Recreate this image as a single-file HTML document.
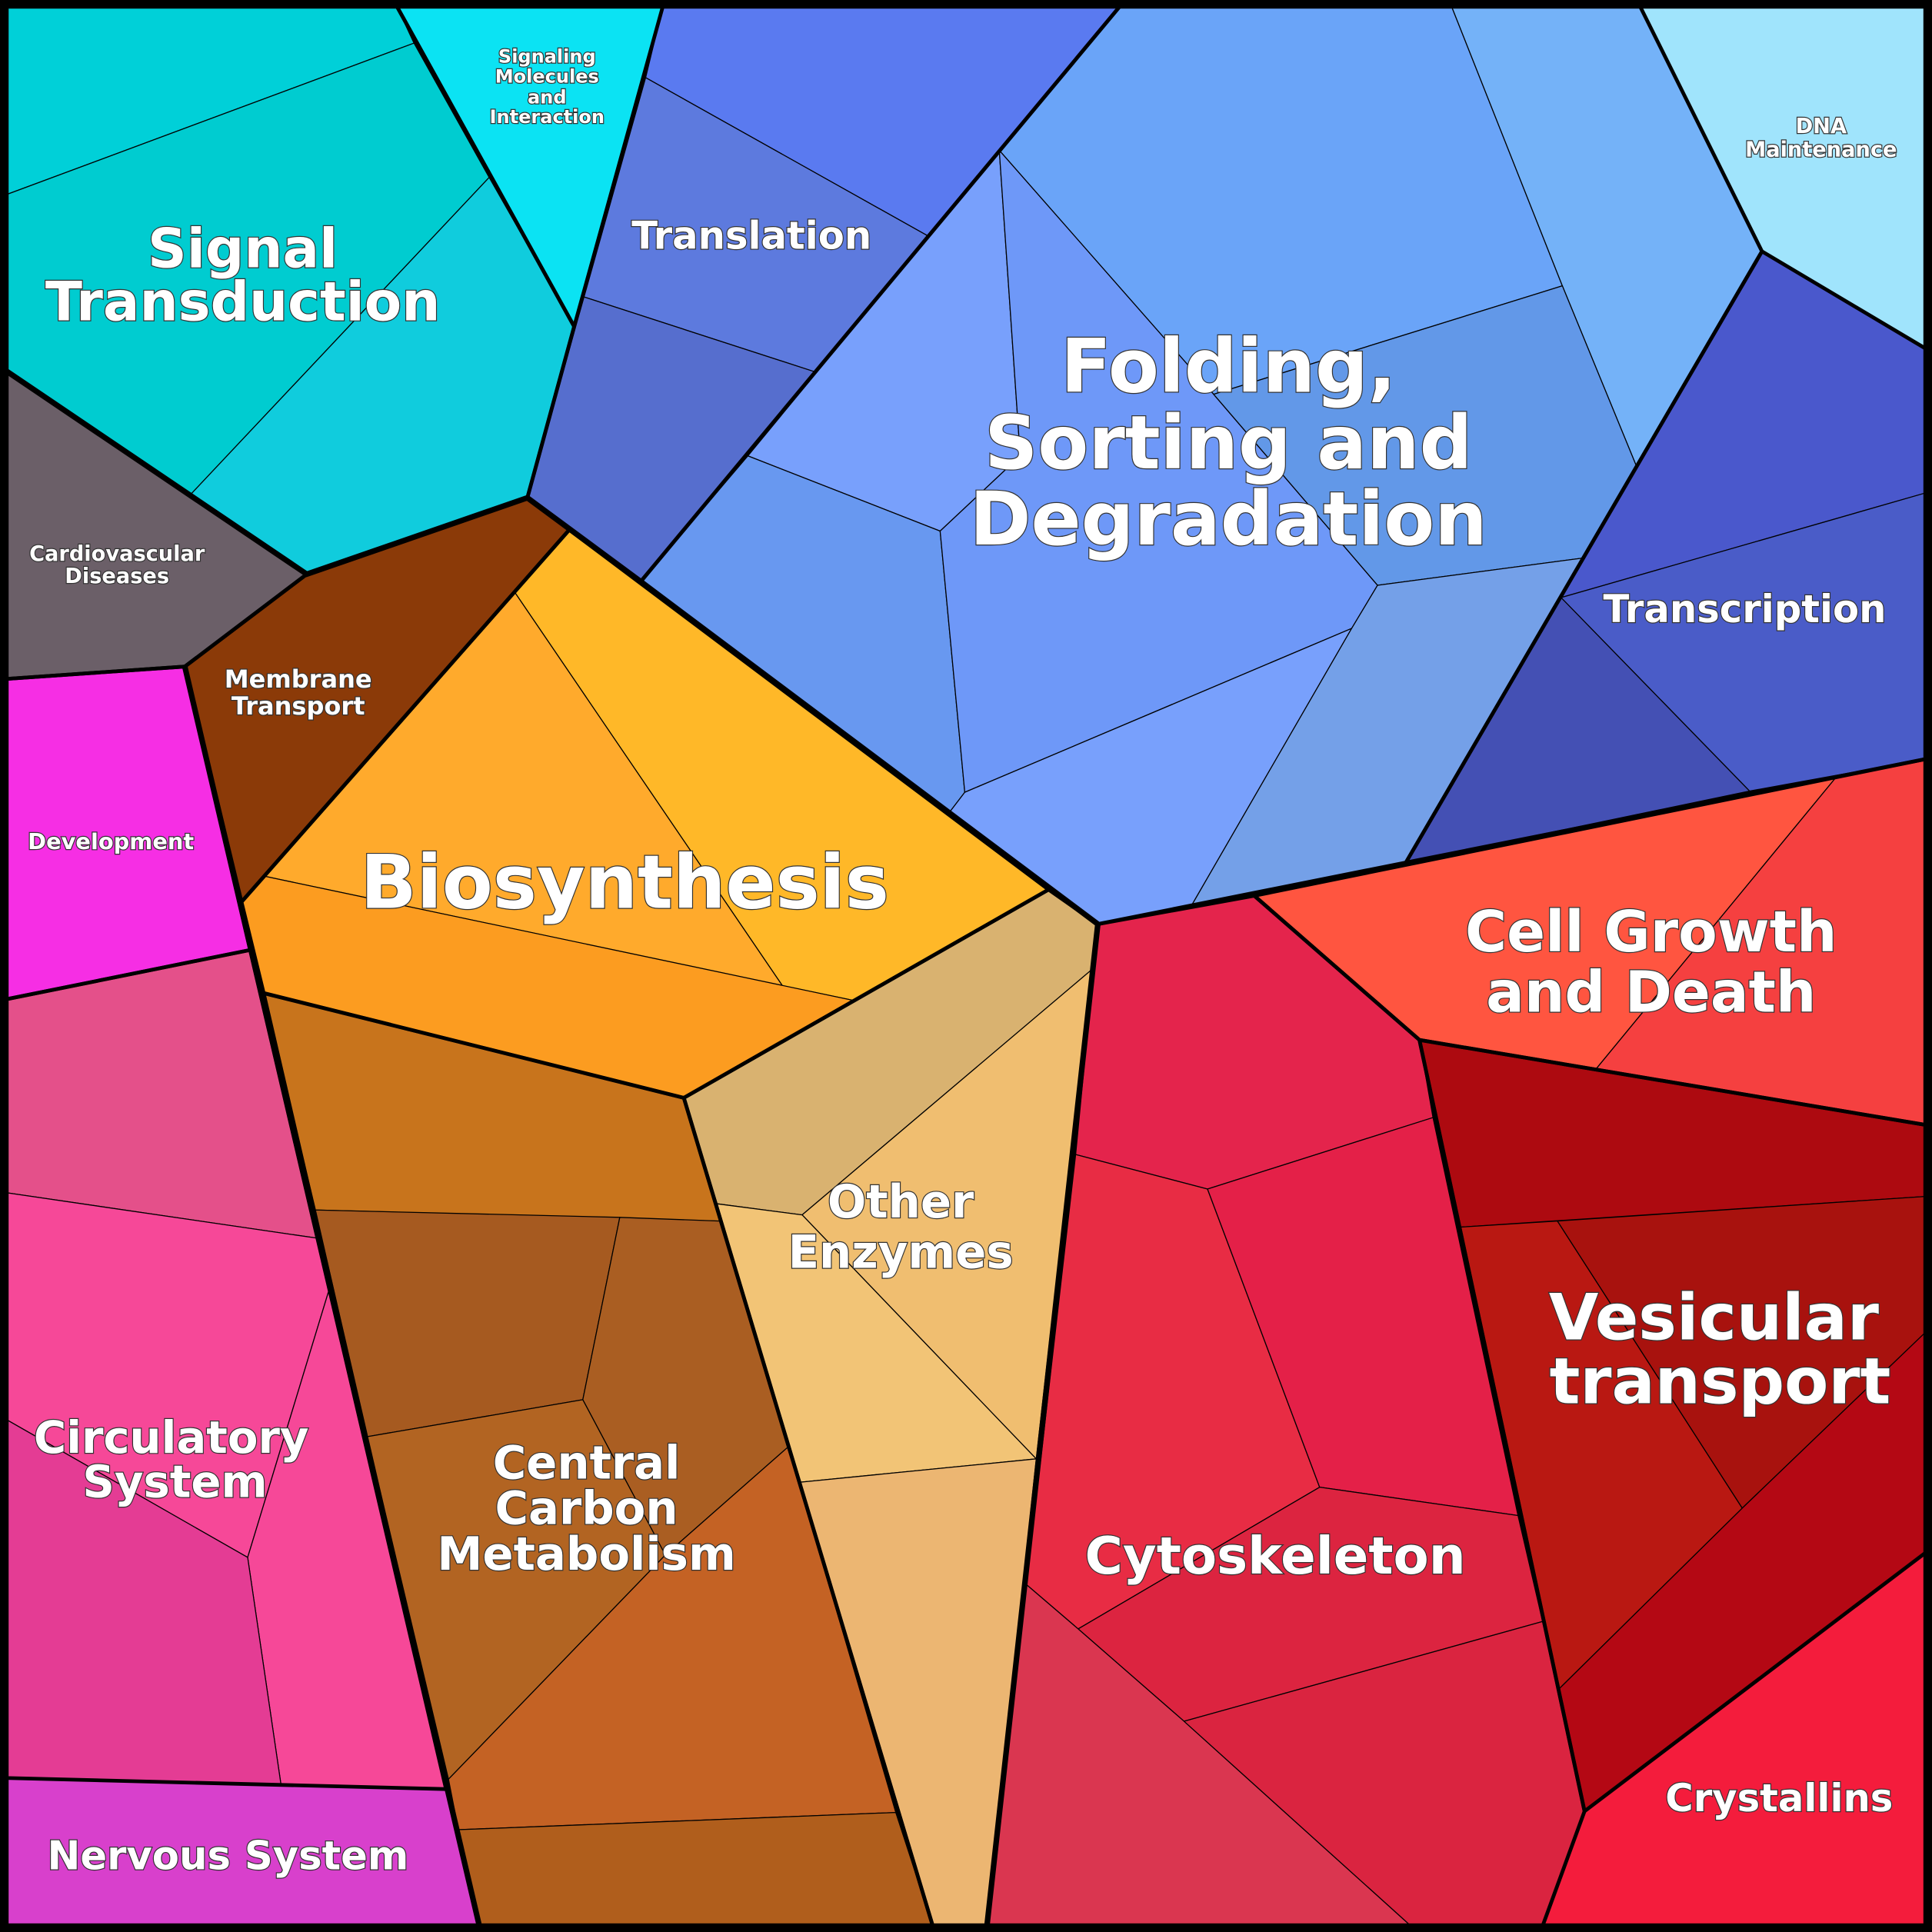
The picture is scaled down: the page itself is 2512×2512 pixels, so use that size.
<!DOCTYPE html>
<html><head><meta charset="utf-8"><style>
html,body{margin:0;padding:0;background:#000}
svg{display:block}
text{font-family:"DejaVu Sans","Liberation Sans",sans-serif;font-weight:bold;fill:#fff;text-anchor:middle;paint-order:stroke;stroke:#333;stroke-width:1.5px}
.s{stroke:#000;stroke-width:0.8;stroke-linejoin:round}
.m{fill:none;stroke:#000;stroke-width:3;stroke-linejoin:round}
</style></head><body>
<svg width="2512" height="2512" viewBox="0 0 1568 1568" xmlns="http://www.w3.org/2000/svg">
<rect x="0" y="0" width="1568" height="1568" fill="#000"/>
<!-- Signal Transduction -->
<polygon class="s" fill="#00D0D8" points="5,5 322,5 336,35 5,158"/>
<polygon class="s" fill="#00CCD0" points="5,158 336,35 397,144 155,401 5,301"/>
<polygon class="s" fill="#10CCDD" points="397,144 466,265 428,404 249,466 155,401"/>
<polygon class="s" fill="#0BE3F3" points="322,5 538,5 466,265"/>
<!-- Translation -->
<polygon class="s" fill="#5A7AF0" points="538,5 909,5 754,192 524,63"/>
<polygon class="s" fill="#5D7ADE" points="524,63 754,192 662,302 474,241"/>
<polygon class="s" fill="#566ECE" points="474,241 662,302 520,472 428,404"/>
<!-- Folding -->
<polygon class="s" fill="#6AA4F8" points="909,5 1178,5 1268,232 985,320 811,122"/>
<polygon class="s" fill="#74B2F8" points="1178,5 1331,5 1430,204 1328,378 1268,232"/>
<polygon class="s" fill="#78A0FC" points="811,122 828,370 763,431 607,370"/>
<polygon class="s" fill="#6898F0" points="520,472 607,370 763,431 783,643 770,660"/>
<polygon class="s" fill="#6E98F8" points="811,122 985,320 1118,475 1097,510 783,643 763,431 828,370"/>
<polygon class="s" fill="#6298E8" points="985,320 1268,232 1328,378 1284,453 1118,475"/>
<polygon class="s" fill="#78A0FC" points="770,660 783,643 1097,510 967,735 891,750"/>
<polygon class="s" fill="#74A0E8" points="1097,510 1118,475 1284,453 1141,700 967,735"/>
<polygon class="s" fill="#A0E4FC" points="1331,5 1563,5 1563,283 1430,204"/>
<!-- Transcription -->
<polygon class="s" fill="#4A58CC" points="1430,204 1563,283 1563,400 1267,485"/>
<polygon class="s" fill="#4450B4" points="1267,485 1420,642 1141,700"/>
<polygon class="s" fill="#4A5CC8" points="1267,485 1563,400 1563,616 1420,642"/>
<!-- Cell growth -->
<polygon class="s" fill="#FF5540" points="1018,727 1490,631 1295,868 1152,844"/>
<polygon class="s" fill="#F54040" points="1490,631 1563,616 1563,913 1295,868"/>
<!-- Vesicular -->
<polygon class="s" fill="#AD0A10" points="1152,844 1563,913 1563,971 1184,996"/>
<polygon class="s" fill="#B91812" points="1184,996 1264,991 1414,1224 1265,1371"/>
<polygon class="s" fill="#A8120E" points="1264,991 1563,971 1563,1081 1414,1224"/>
<polygon class="s" fill="#B40814" points="1414,1224 1563,1081 1563,1260 1286,1470 1265,1371"/>
<polygon class="s" fill="#F41C3C" points="1286,1470 1563,1260 1563,1563 1252,1563"/>
<!-- Cytoskeleton -->
<polygon class="s" fill="#E4244C" points="891,750 1018,727 1152,844 1163,907 980,965 873,937"/>
<polygon class="s" fill="#E82C44" points="873,937 980,965 1071,1207 875,1322 833,1286"/>
<polygon class="s" fill="#E42048" points="980,965 1163,907 1232,1230 1071,1207"/>
<polygon class="s" fill="#DC2440" points="875,1322 1071,1207 1232,1230 1252,1316 961,1397"/>
<polygon class="s" fill="#DA3650" points="833,1286 875,1322 961,1397 1145,1563 801,1563"/>
<polygon class="s" fill="#DA2440" points="961,1397 1252,1316 1286,1470 1252,1563 1145,1563"/>
<!-- Other enzymes -->
<polygon class="s" fill="#D9B270" points="851,722 891,750 886,787 651,986 582,977 555,891"/>
<polygon class="s" fill="#F0BE70" points="886,787 841,1184 651,986"/>
<polygon class="s" fill="#F2C476" points="582,977 651,986 841,1184 649,1203"/>
<polygon class="s" fill="#ECB672" points="649,1203 841,1184 801,1563 757,1563"/>
<!-- Biosynthesis -->
<polygon class="s" fill="#FFB828" points="462,430 851,722 693,812 635,800 418,481"/>
<polygon class="s" fill="#FFAA2C" points="418,481 635,800 214,711"/>
<polygon class="s" fill="#FC9C20" points="196,732 214,711 693,812 555,891 214,806"/>
<polygon class="s" fill="#8B3A08" points="249,466 428,404 462,430 196,732 150,541"/>
<polygon class="s" fill="#6B5F68" points="5,301 249,466 150,541 5,551"/>
<polygon class="s" fill="#F62EE4" points="5,551 150,541 203,771 5,811"/>
<!-- Circulatory -->
<polygon class="s" fill="#E4508A" points="5,811 203,771 258,1005 5,968"/>
<polygon class="s" fill="#F64898" points="5,968 258,1005 267,1047 201,1264 5,1152"/>
<polygon class="s" fill="#F64898" points="267,1047 362,1452 228,1448 201,1264"/>
<polygon class="s" fill="#E43C94" points="5,1152 201,1264 228,1448 5,1443"/>
<polygon class="s" fill="#D840CC" points="5,1443 362,1452 389,1563 5,1563"/>
<!-- Central carbon -->
<polygon class="s" fill="#C8741C" points="214,806 555,891 584,991 256,982"/>
<polygon class="s" fill="#A65A20" points="256,982 503,988 473,1136 298,1166"/>
<polygon class="s" fill="#AA5E22" points="503,988 584,991 640,1174 540,1262 473,1136"/>
<polygon class="s" fill="#B26422" points="298,1166 473,1136 540,1262 364,1444"/>
<polygon class="s" fill="#C46224" points="640,1174 727,1471 372,1485 364,1444 540,1262"/>
<polygon class="s" fill="#B05E1C" points="372,1485 727,1471 757,1563 389,1563"/>
<!-- major borders -->
<g class="m">
<polygon points="5,5 322,5 466,265 428,404 249,466 5,301"/>
<polyline points="322,5 466,265"/>
<polygon points="538,5 909,5 520,472 428,404 466,265"/>
<polygon points="909,5 1331,5 1430,204 1141,700 891,750 520,472"/>
<polygon points="1430,204 1563,283 1563,616 1141,700"/>
<polygon points="1018,727 1563,616 1563,913 1152,844"/>
<polygon points="1152,844 1563,913 1563,1260 1286,1470"/>
<polygon points="891,750 1018,727 1152,844 1286,1470 1252,1563 801,1563"/>
<polygon points="851,722 891,750 801,1563 757,1563 555,891"/>
<polygon points="462,430 851,722 555,891 214,806 196,732"/>
<polygon points="249,466 428,404 462,430 196,732 150,541"/>
<polygon points="5,301 249,466 150,541 5,551"/>
<polygon points="5,551 150,541 203,771 5,811"/>
<polygon points="5,811 203,771 362,1452 5,1443"/>
<polygon points="214,806 555,891 757,1563 389,1563"/>
</g>
<polyline points="5,301 249,466 428,404 520,472 891,750 801,1563" fill="none" stroke="#000" stroke-width="4.5"/>
<polyline points="150,541 389,1563" fill="none" stroke="#000" stroke-width="4.5"/>
<rect x="3.5" y="3.5" width="1561" height="1561" fill="none" stroke="#000" stroke-width="7"/>
<!-- labels -->
<text x="197" y="217" font-size="44">Signal</text>
<text x="197" y="260" font-size="44">Transduction</text>
<text x="444" y="51" font-size="15">Signaling</text>
<text x="444" y="67" font-size="15">Molecules</text>
<text x="444" y="84" font-size="15">and</text>
<text x="444" y="100" font-size="15">Interaction</text>
<text x="610" y="202" font-size="31">Translation</text>
<text x="997" y="318" font-size="60">Folding,</text>
<text x="997" y="380" font-size="60">Sorting and</text>
<text x="997" y="442" font-size="60">Degradation</text>
<text x="1478" y="108" font-size="17">DNA</text>
<text x="1478" y="127" font-size="17">Maintenance</text>
<text x="1416" y="505" font-size="31">Transcription</text>
<text x="95" y="455" font-size="17">Cardiovascular</text>
<text x="95" y="473" font-size="17">Diseases</text>
<text x="242" y="558" font-size="20">Membrane</text>
<text x="242" y="580" font-size="20">Transport</text>
<text x="90" y="689" font-size="18">Development</text>
<text x="507" y="737" font-size="60">Biosynthesis</text>
<text x="1340" y="772" font-size="46">Cell Growth</text>
<text x="1340" y="821" font-size="46">and Death</text>
<text x="731" y="988" font-size="37">Other</text>
<text x="731" y="1029" font-size="37">Enzymes</text>
<text x="1391" y="1087" font-size="52">Vesicular</text>
<text x="1396" y="1139" font-size="52">transport</text>
<text x="139" y="1179" font-size="36">Circulatory</text>
<text x="142" y="1215" font-size="36">System</text>
<text x="476" y="1200" font-size="37">Central</text>
<text x="476" y="1237" font-size="37">Carbon</text>
<text x="476" y="1274" font-size="37">Metabolism</text>
<text x="1035" y="1277" font-size="42">Cytoskeleton</text>
<text x="1444" y="1470" font-size="31">Crystallins</text>
<text x="185" y="1517" font-size="32">Nervous System</text>
</svg>
</body></html>
